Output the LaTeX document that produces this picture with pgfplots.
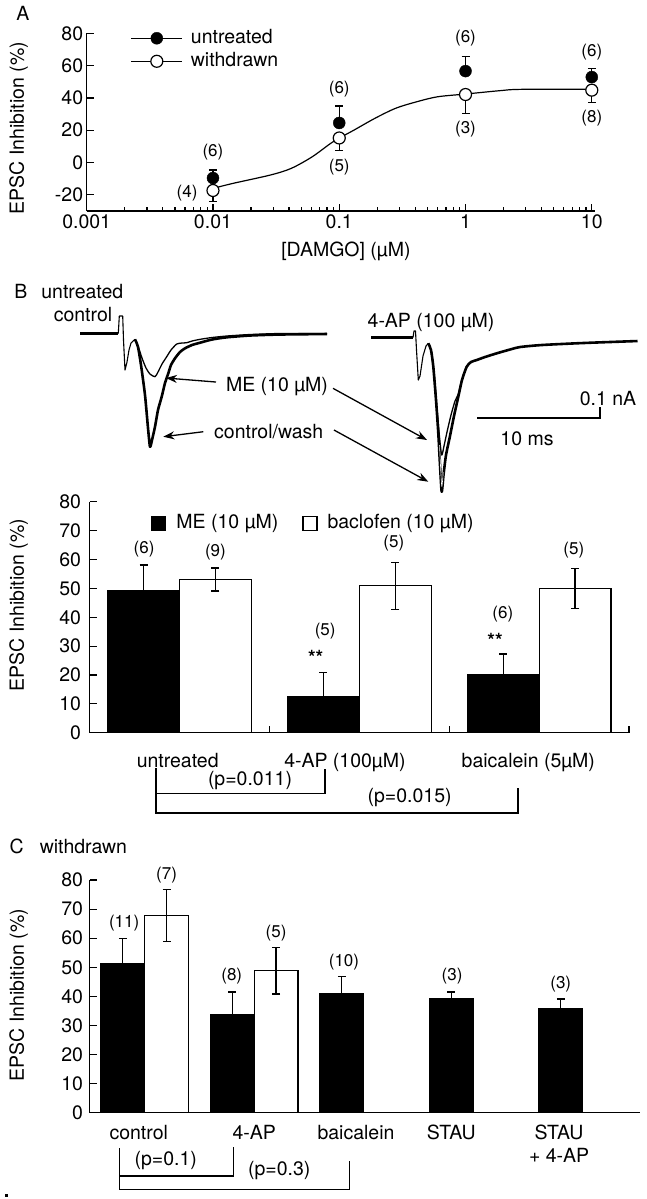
\documentclass[border=0pt]{standalone}
\usepackage{fontspec}
\setmainfont{TeX Gyre Heros}
\usepackage{pgfplots}
\pgfplotsset{compat=1.18}
\usetikzlibrary{arrows.meta}
\newcommand\fs{\fontsize{19.5bp}{23bp}\selectfont}
\newcommand\fn{\fontsize{17bp}{20bp}\selectfont}
\pgfplotsset{
  myaxis/.style={scale only axis, axis x line*=bottom, axis y line*=left,
    axis line style={line width=1.4bp,-}, tick align=inside,
    major tick length=7bp, minor tick length=4bp,
    every tick/.style={black,line width=1.2bp},
    tick label style={font=\fs}, label style={font=\fs},
    /pgf/number format/assume math mode=true, clip=false},
  myerr/.style={/pgfplots/error bars/y explicit,
    /pgfplots/error bars/error bar style={line width=1.2bp,black},
    /pgfplots/error bars/error mark options={rotate=90, mark size=4bp, line width=1.2bp, black}},
}
\begin{document}
\begin{tikzpicture}
\useasboundingbox (0bp,0bp) rectangle (647bp,-1199bp);

% ---------------- Panel A ----------------
\begin{axis}[myaxis, at={(86.7bp,-211bp)}, anchor=south west,
  width=508.3bp, height=177.7bp, xmode=log, xmin=0.001, xmax=10.6,
  ymin=-30, ymax=80, ytick={-20,0,20,40,60,80},
  xtick={0.001,0.01,0.1,1,10}, xticklabels={0.001,0.01,0.1,1,10},
  minor xtick={0.002,0.003,0.004,0.005,0.006,0.007,0.008,0.009,0.02,0.03,0.04,0.05,0.06,0.07,0.08,0.09,0.2,0.3,0.4,0.5,0.6,0.7,0.8,0.9,2,3,4,5,6,7,8,9},
  xlabel={[DAMGO] (µM)}, ylabel={EPSC Inhibition (\%)},
  every axis x label/.style={at={(axis description cs:0.51,-0.229)}, anchor=center, font=\fs},
  every axis y label/.style={at={(axis description cs:-0.1337,0.467)}, rotate=90, anchor=center, font=\fs},
  legend style={draw=none, fill=none, at={(axis description cs:0.0862,1.035)}, anchor=north west,
    font=\fs, row sep=1bp, inner sep=0pt, nodes={inner sep=2bp, text height=14bp, text depth=4bp},
    /tikz/every odd column/.append style={column sep=6bp}},
  legend cell align=left]
\addlegendimage{legend image code/.code={\path (0bp,0bp) -- (51bp,0bp); \fill[black] (25.5bp,0bp) circle (6bp);}}
\addlegendentry{untreated}
\addlegendimage{legend image code/.code={\draw[black,line width=1.2bp] (0bp,0bp) -- (51bp,0bp); \filldraw[fill=white,draw=black,line width=1.2bp] (25.5bp,0bp) circle (6bp);}}
\addlegendentry{withdrawn}
\addplot[black, line width=1.2bp, smooth, forget plot] coordinates {(0.01,-16)(0.0144,-12.9)(0.0286,-7.7)(0.0417,-3.6)(0.0612,3.6)(0.0895,12.9)(0.131,20.1)(0.192,27.4)(0.28,33.6)(0.41,37.6)(0.6,40.7)(1,42.4)(1.88,44.5)(2.75,45.3)(10,45.3)};
\addplot[forget plot, only marks, mark=*, mark size=6bp, black, error bars/y dir=plus, myerr]
  coordinates {(0.01,-9.6) +- (0,5) (0.1,24.5) +- (0,10.5) (1,56.6) +- (0,9) (10,52.9) +- (0,5.5)};
\addplot[forget plot, only marks, mark=*, mark size=6bp, mark options={fill=white,draw=black,line width=1.2bp}, error bars/y dir=minus, myerr]
  coordinates {(0.01,-17.3) +- (0,6.7) (0.1,15.2) +- (0,7.7) (1,42.1) +- (0,11.8) (10,44.8) +- (0,7.4)};
\node[font=\fn] at (axis cs:0.01,6.5) {(6)};
\node[font=\fn] at (axis cs:0.00624,-18.9) {(4)};
\node[font=\fn] at (axis cs:0.1,45.5) {(6)};
\node[font=\fn] at (axis cs:0.1,-2.8) {(5)};
\node[font=\fn] at (axis cs:1,77) {(6)};
\node[font=\fn] at (axis cs:1,20.7) {(3)};
\node[font=\fn] at (axis cs:10,68.4) {(6)};
\node[font=\fn] at (axis cs:10,27.6) {(8)};
\end{axis}

% ---------------- Panel B bars ----------------
\begin{axis}[myaxis, at={(89.6bp,-732.7bp)}, anchor=south west,
  width=539.4bp, height=230.9bp, xmin=-0.5, xmax=2.5, ymin=0, ymax=80,
  ytick={0,10,...,80}, yticklabel style={xshift=-5bp},
  xtick={-0.5,0.5,1.5,2.5}, xticklabels={},
  extra x ticks={-0.01,0.92,1.94}, extra x tick labels={untreated,4-AP (100µM),baicalein (5µM)},
  extra x tick style={major tick length=0pt},
  xticklabel style={yshift=-17bp},
  ylabel={EPSC Inhibition (\%)},
  every axis y label/.style={at={(axis description cs:-0.1313,0.553)}, rotate=90, anchor=center, font=\fs},
  legend columns=2,
  legend style={draw=none, fill=none, at={(axis description cs:0.114,0.955)}, anchor=north west,
    font=\fs, inner sep=0pt, nodes={inner sep=2bp, text height=14bp, text depth=4bp},
    /tikz/every odd column/.append style={column sep=8bp},
    /tikz/every even column/.append style={column sep=22bp}},
  legend cell align=left]
\addlegendimage{legend image code/.code={\filldraw[fill=black,draw=black,line width=1.2bp] (0bp,-7bp) rectangle (14bp,7bp);}}
\addlegendentry{ME (10 µM)}
\addlegendimage{legend image code/.code={\filldraw[fill=white,draw=black,line width=1.2bp] (0bp,-7bp) rectangle (14bp,7bp);}}
\addlegendentry{baclofen (10 µM)}
\addplot[forget plot, ybar, bar width=0.4, bar shift=0pt, fill=black, draw=black, line width=1.2bp, error bars/y dir=both, myerr]
  coordinates {(-0.2,49.2) +- (0,8.9) (0.8,12.5) +- (0,8.3) (1.8,20) +- (0,7.3)};
\addplot[forget plot, ybar, bar width=0.4, bar shift=0pt, fill=white, draw=black, line width=1.2bp, error bars/y dir=both, myerr]
  coordinates {(0.2,53.1) +- (0,4) (1.2,50.9) +- (0,8.2) (2.2,49.9) +- (0,7)};
\node[font=\fn] at (axis cs:-0.197,63.5) {(6)};
\node[font=\fn] at (axis cs:0.2,62.7) {(9)};
\node[font=\fn] at (axis cs:0.81,35.3) {(5)};
\node[font=\fs\bfseries] at (axis cs:0.757,26.2) {**};
\node[font=\fn] at (axis cs:1.192,65.7) {(5)};
\node[font=\fn] at (axis cs:1.798,41.1) {(6)};
\node[font=\fs\bfseries] at (axis cs:1.755,32.1) {**};
\node[font=\fn] at (axis cs:2.193,63.3) {(5)};
\end{axis}

% ---------------- Panel C bars ----------------
\begin{axis}[myaxis, at={(89.6bp,-1112.7bp)}, anchor=south west,
  width=550bp, height=232.7bp, xmin=-0.303, xmax=4.72, ymin=0, ymax=80,
  ytick={0,10,...,80}, yticklabel style={xshift=-3bp},
  xtick={0.146,1.2,2.13,3.0,3.985},
  xticklabels={control,4-AP,baicalein,STAU,{STAU\\+ 4-AP}},
  xticklabel style={align=center, yshift=-9bp}, xtick style={draw=none},
  ylabel={EPSC Inhibition (\%)},
  every axis y label/.style={at={(axis description cs:-0.1288,0.506)}, rotate=90, anchor=center, font=\fs}]
\addplot[ybar, bar width=0.4, bar shift=0pt, fill=black, draw=black, line width=1.2bp, error bars/y dir=both, myerr]
  coordinates {(0,51.4) +- (0,8.6) (1,33.9) +- (0,7.6) (2,40.8) +- (0,6) (3,39.3) +- (0,2.2) (4,35.9) +- (0,3.2)};
\addplot[ybar, bar width=0.4, bar shift=0pt, fill=white, draw=black, line width=1.2bp, error bars/y dir=both, myerr]
  coordinates {(0.4,67.8) +- (0,8.9) (1.4,48.8) +- (0,8)};
\node[font=\fn] at (axis cs:0.013,65.3) {(11)};
\node[font=\fn] at (axis cs:0.40,81.7) {(7)};
\node[font=\fn] at (axis cs:0.995,47) {(8)};
\node[font=\fn] at (axis cs:1.40,61.7) {(5)};
\node[font=\fn] at (axis cs:2.02,51.9) {(10)};
\node[font=\fn] at (axis cs:3.007,47) {(3)};
\node[font=\fn] at (axis cs:4.0,44.3) {(3)};
\end{axis}

% ---------------- Canvas: traces, annotations ----------------
\begin{axis}[scale only axis, at={(0bp,-1199bp)}, anchor=south west,
  width=647bp, height=1199bp, xmin=0, xmax=647, ymin=0, ymax=1199,
  y dir=reverse, hide axis, clip=false]
\node[font=\fs, inner sep=0pt] at (axis cs:23,13) {A};
\node[font=\fs, inner sep=0pt] at (axis cs:20.8,291.7) {B};
\node[font=\fs, inner sep=0pt] at (axis cs:82.3,291.7) {untreated};
\node[font=\fs, inner sep=0pt] at (axis cs:83,315) {control};
\node[font=\fs, inner sep=0pt] at (axis cs:431,323) {4-AP (100 µM)};
\node[font=\fs, inner sep=0pt] at (axis cs:277,386.7) {ME (10 µM)};
\node[font=\fs, inner sep=0pt] at (axis cs:268.75,431.7) {control/wash};
\node[font=\fs, inner sep=0pt] at (axis cs:608,398.3) {0.1 nA};
\node[font=\fs, inner sep=0pt] at (axis cs:527,438.3) {10 ms};
% left traces
\addplot[black, line width=2.4bp, line join=round] coordinates {(80,333.5)(118.3,333.5)};
\addplot[black, line width=1.1bp, line join=round] coordinates {(118.3,333.5)(119.3,316)(122.7,316)(123.5,340)(125,370)(127,362)(129,350)(131,343)(135,339.3)};
\addplot[black, line width=2.6bp, line join=round, smooth, tension=0.4] coordinates {(135,339.3)(138,347)(141,365)(145,395)(148,428)(150,446.7)(152,440)(155,426.7)(158,410)(161.7,396.7)(165,383)(168.3,373.3)(171,365)(175,358.3)(180,352)(185,348.3)(192,345)(200,342.7)(212,339.5)(226.7,337.3)(250,335.5)(280,334.5)(327,334)};
\addplot[black, line width=1.3bp, line join=round, smooth, tension=0.4] coordinates {(135,339.3)(138,346)(142,358)(146,368)(150,374)(155,376.7)(158,372)(162,364)(166.7,356.7)(171,350)(176.7,344)(182,343)(186.7,342.7)(192,341)(200,339.3)(212,337.5)(226.7,336)(250,334.5)(280,333.5)(327,333.5)};
% right traces
\addplot[black, line width=2.4bp] coordinates {(371,337.5)(413,337.5)};
\addplot[black, line width=1.1bp, line join=round] coordinates {(413,337.5)(414,331)(415.5,331)(416.5,350)(418.3,380)(420,376)(423,356)(426,346)(428.3,343.3)};
\addplot[black, line width=2.6bp, line join=round, smooth, tension=0.4] coordinates {(428.3,343.3)(431,350)(433.3,366.7)(436,400)(438.3,433.3)(440,465)(441.7,491.7)(443.5,475)(446,455)(450,436)(454,416)(458.3,396.7)(462,380)(466.7,366.7)(471,362)(476.7,360)(485,357)(496.7,353.3)(510,349.5)(520,347)(541.7,345)(583,343)(637.5,341)};
\addplot[white, line width=0.6bp, smooth, tension=0.4] coordinates {(439.5,445)(441.7,486)(443.2,472)};
\addplot[black, line width=1.3bp, line join=round, smooth, tension=0.4] coordinates {(428.3,343.3)(431,351)(434,372)(437,408)(439.5,437)(441.7,455)(444,446)(447,432)(451,415)(455,401)(458.3,394)(462,379)(466.7,366)};
% scale bar
\addplot[black, line width=2bp] coordinates {(477,418.3)(600,418.3)(600,407)};
% arrows
\addplot[black, line width=1.3bp, -{Stealth[length=11bp,width=8bp]}] coordinates {(216,382)(166,378)};
\addplot[black, line width=1.3bp, -{Stealth[length=11bp,width=8bp]}] coordinates {(333,388.3)(427,440)};
\addplot[black, line width=1.3bp, -{Stealth[length=11bp,width=8bp]}] coordinates {(203.3,431.7)(163.3,436.7)};
\addplot[black, line width=1.3bp, -{Stealth[length=11bp,width=8bp]}] coordinates {(334,430)(428.3,481.7)};
% B brackets
\addplot[black, line width=1.2bp] coordinates {(156,768)(156,793.3)(325,793.3)(325,769)};
\addplot[black, line width=1.2bp] coordinates {(156,793.3)(156,813)(518,813)(518,788)};
\node[font=\fs, inner sep=0pt] at (axis cs:250,780.7) {(p=0.011)};
\node[font=\fs, inner sep=0pt] at (axis cs:409.6,797.3) {(p=0.015)};
% C title
\node[font=\fs, inner sep=0pt] at (axis cs:16.7,846.7) {C};
\node[font=\fs, inner sep=0pt, anchor=west] at (axis cs:39.6,846.7) {withdrawn};
% C brackets
\addplot[black, line width=1.2bp] coordinates {(119.6,1148.3)(119.6,1176)(233.3,1176)(233.3,1146.7)};
\addplot[black, line width=1.2bp] coordinates {(119.6,1176)(119.6,1189.3)(349.2,1189.3)(349.2,1160.7)};
\node[font=\fs, inner sep=0pt] at (axis cs:165.8,1160.7) {(p=0.1)};
\node[font=\fs, inner sep=0pt] at (axis cs:279.2,1170.7) {(p=0.3)};
\addplot[only marks, mark=square*, mark size=1.2bp, black] coordinates {(6,1195)};
\end{axis}
\end{tikzpicture}
\end{document}
